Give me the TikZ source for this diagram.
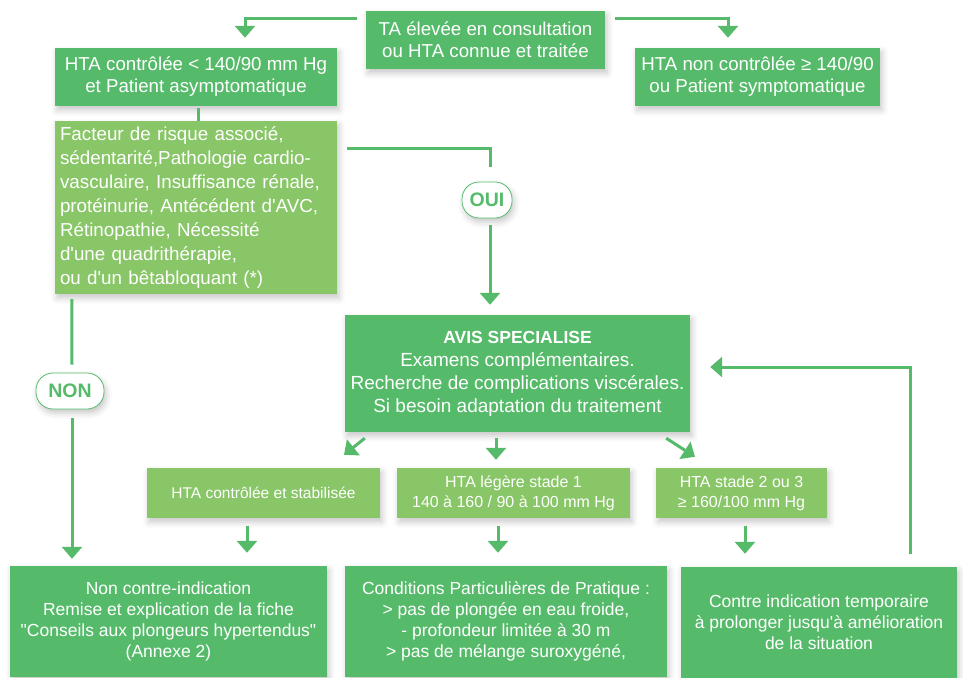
\documentclass[tikz,border=0pt]{standalone}
\usepackage{fontspec}
\setmainfont{Liberation Sans}[Ligatures=TeXOff]
\usetikzlibrary{arrows.meta,shadows.blur}
\definecolor{dg}{HTML}{55BB6A}
\definecolor{lg}{HTML}{88C667}
\newcommand\fTop{\fontsize{18.7}{22}\selectfont}
\newcommand\fFact{\fontsize{18.8}{24}\selectfont}
\newcommand\fAvis{\fontsize{19}{23}\selectfont}
\newcommand\fMid{\fontsize{16}{20}\selectfont}
\newcommand\fBot{\fontsize{17.5}{21}\selectfont}
\begin{document}
\begin{tikzpicture}[x=1pt,y=-1pt,
  shad/.style={blur shadow={shadow xshift=2pt,shadow yshift=-4pt,shadow blur radius=6pt,shadow opacity=22}},
  box/.style={shad, fill=dg, text=white, inner sep=0pt, align=center},
  lbox/.style={box, fill=lg},
  pill/.style={shad, draw=dg, line width=0.8pt, fill=white, rounded corners=17pt, text=dg, inner sep=0pt,
    font=\bfseries\fontsize{19.5}{22}\selectfont, minimum height=36pt},
  conn/.style={draw=dg, line width=3pt},
  arr/.style={conn, -{Triangle[width=20pt,length=12pt]}}
]
\useasboundingbox (0,0) rectangle (963,677);

\node[box, minimum width=239pt, minimum height=58pt, font=\fTop] (ta) at (485.5,40)
  {TA élevée en consultation\\ou HTA connue et traitée};
\node[box, minimum width=282pt, minimum height=58pt, font=\fTop] (ctrl) at (196,77)
  {HTA contrôlée < 140/90 mm Hg\\et Patient asymptomatique};
\node[box, minimum width=245pt, minimum height=58pt, font=\fTop] (nonctrl) at (757.5,77)
  {HTA non contrôlée ≥ 140/90\\ou Patient symptomatique};
\node[lbox, minimum width=282pt, minimum height=173pt, text width=272pt, inner xsep=5pt, align=left, font=\fFact] (fact) at (196,207.5)
  {Facteur de risque associé,\\sédentarité,Pathologie cardio-\\vasculaire, Insuffisance rénale,\\protéinurie, Antécédent d'AVC,\\Rétinopathie, Nécessité\\d'une quadrithérapie,\\ou d'un bêtabloquant (*)};
\node[pill, minimum width=50pt] (oui) at (487,200) {OUI};
\node[pill, minimum width=68pt] (non) at (70,391) {NON};
\node[box, minimum width=345pt, minimum height=117pt, font=\fAvis] (avis) at (517.5,373.5)
  {{\bfseries\fontsize{17.5}{23}\selectfont AVIS SPECIALISE}\\Examens complémentaires.\\Recherche de complications viscérales.\\Si besoin adaptation du traitement};
\node[lbox, minimum width=233pt, minimum height=50pt, font=\fontsize{15.5}{20}\selectfont] (mid1) at (263.5,493)
  {HTA contrôlée et stabilisée};
\node[lbox, minimum width=233pt, minimum height=50pt, font=\fMid] (mid2) at (513.5,493)
  {HTA légère stade 1\\140 à 160 / 90 à 100 mm Hg};
\node[lbox, minimum width=171pt, minimum height=50pt, font=\fMid] (mid3) at (741.5,493)
  {HTA stade 2 ou 3\\≥ 160/100 mm Hg};
\node[box, minimum width=317pt, minimum height=111pt, font=\fBot] (bot1) at (168.5,621.5)
  {Non contre-indication\\Remise et explication de la fiche\\"Conseils aux plongeurs hypertendus"\\(Annexe 2)};
\node[box, minimum width=322pt, minimum height=111pt, font=\fBot] (bot2) at (506,621.5)
  {Conditions Particulières de Pratique :\\> pas de plongée en eau froide,\\- profondeur limitée à 30 m\\> pas de mélange suroxygéné,};
\node[box, minimum width=276pt, minimum height=111pt, font=\fBot] (bot3) at (819,622.5)
  {Contre indication temporaire\\à prolonger jusqu'à amélioration\\de la situation};

\draw[arr] ([shift={(-9,8)}]ta.north west) -| ([shift={(49,-10)}]ctrl.north);
\draw[arr] ([shift={(10,8)}]ta.north east) -| ([shift={(-29.5,-10)}]nonctrl.north);
\draw[conn] ([shift={(2,2)}]ctrl.south) -- ([shift={(2,0)}]fact.north);
\draw[conn] ([shift={(10,28)}]fact.north east) -| ([shift={(3,-15)}]oui.north);
\draw[arr] ([shift={(3,7)}]oui.south) -- ([shift={(-27.5,-10)}]avis.north);
\draw[conn] ([shift={(17,5)}]fact.south west) -- ([shift={(2,-8)}]non.north);
\draw[arr] ([shift={(2,9)}]non.south) -- ([shift={(-96.5,-7)}]bot1.north);
\draw[arr] ([shift={(20,6)}]avis.south west) -- ([shift={(80.5,-13)}]mid1.north);
\draw[arr] ([shift={(-21.5,6)}]avis.south) -- ([shift={(-17.5,-8)}]mid2.north);
\draw[arr] ([shift={(-24,6)}]avis.south east) -- ([shift={(-46.5,-11)}]mid3.north);
\draw[arr] ([shift={(-16.5,8)}]mid1.south) -- ([shift={(78.5,-13)}]bot1.north);
\draw[arr] ([shift={(-15.5,8)}]mid2.south) -- ([shift={(-8,-13)}]bot2.north);
\draw[arr] ([shift={(3.5,8)}]mid3.south) -- ([shift={(-74,-13)}]bot3.north);
\draw[arr] ([shift={(91,-13)}]bot3.north) |- ([shift={(20,-6.5)}]avis.east);
\end{tikzpicture}
\end{document}
